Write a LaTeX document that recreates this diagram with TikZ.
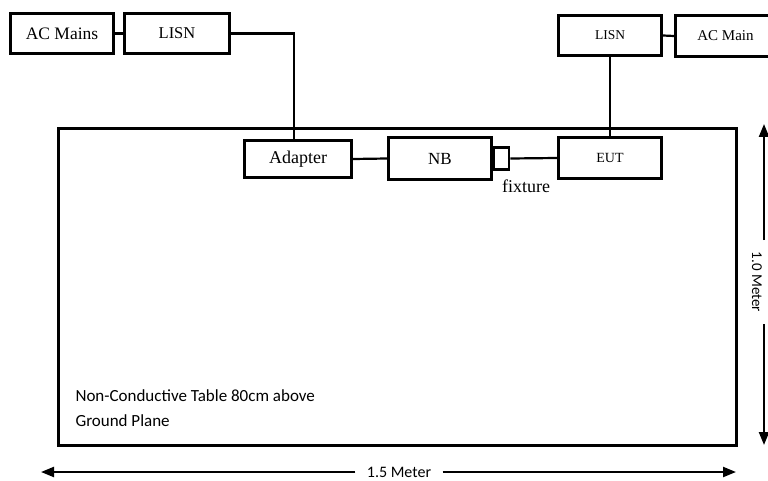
\documentclass[tikz,border=0pt]{standalone}
\usepackage{fontspec}
\setmainfont{Liberation Serif}
\newfontfamily\carl{Carlito}
\usetikzlibrary{arrows.meta}
\begin{document}
\begin{tikzpicture}[x=1pt,y=-1pt,
  blk/.style={draw,line width=3pt,inner sep=0pt,anchor=north west},
  wire/.style={line width=2.2pt},
  dim/.style={line width=2.2pt,-{Triangle[length=13pt,width=10pt]}}]
\useasboundingbox (0,0) rectangle (768,481);
% boxes
\node[blk,minimum width=103pt,minimum height=40pt,font=\fontsize{17.5}{20}\selectfont] (acl) at (9,12) {AC Mains};
\node[blk,minimum width=105pt,minimum height=40pt,font=\fontsize{16.5}{20}\selectfont] (lisnl) at (123,12) {LISN};
\node[blk,minimum width=103pt,minimum height=40pt,font=\fontsize{13.5}{16}\selectfont] (lisnr) at (557,14) {LISN};
\node[blk,minimum width=100pt,minimum height=41pt,font=\fontsize{15}{18}\selectfont] (acr) at (674,14) {AC Main};
\node[draw,line width=3pt,anchor=north west,minimum width=678pt,minimum height=317pt,inner sep=0pt] (table) at (57,127) {};
\node[blk,minimum width=107pt,minimum height=37pt,font=\fontsize{18}{20}\selectfont] (adp) at (243,139) {Adapter};
\node[blk,minimum width=103pt,minimum height=42pt,font=\fontsize{17}{20}\selectfont] (nb) at (387,136) {NB};
\node[draw,line width=2.4pt,anchor=west,minimum width=15pt,minimum height=22pt,inner sep=0pt] (fx) at (nb.east) {};
\node[blk,minimum width=103pt,minimum height=41pt,font=\fontsize{14}{16}\selectfont] (eut) at (557,136) {EUT};
\node[font=\fontsize{18}{20}\selectfont] (fxl) at (526,186) {fixture};
% wires
\draw[wire] (acl.east) -- (lisnl.west);
\draw[wire] (lisnl.east) -| (adp.north -| 294,0);
\draw[wire] (lisnr.east) -- (acr.west);
\draw[wire] (lisnr.south) -- (eut.north);
\draw[wire] (adp.east) -- (nb.west);
\draw[wire] (fx.east) -- (eut.west);
% table text
\node[font=\carl\fontsize{17}{20}\selectfont,anchor=west] (t1) at (72,396) {Non-Conductive Table 80cm above};
\node[font=\carl\fontsize{17}{20}\selectfont,anchor=west] (t2) at (72,421) {Ground Plane};
% dimensions
\node[font=\carl\fontsize{16}{18}\selectfont] (w) at (399,472) {1.5 Meter};
\coordinate (wl) at (41,472);
\coordinate (wr) at (736,472);
\draw[dim] (w.west) ++(-8,0) -- (wl);
\draw[dim] (w.east) ++(8,0) -- (wr);
\node[font=\carl\fontsize{15}{18}\selectfont,rotate=-90,inner sep=1pt] (h) at (757,282) {1.0 Meter};
\coordinate (ht) at (764,124);
\coordinate (hb) at (764,445);
\draw[dim] (764,240) -- (ht);
\draw[dim] (764,324) -- (hb);
\end{tikzpicture}
\end{document}
